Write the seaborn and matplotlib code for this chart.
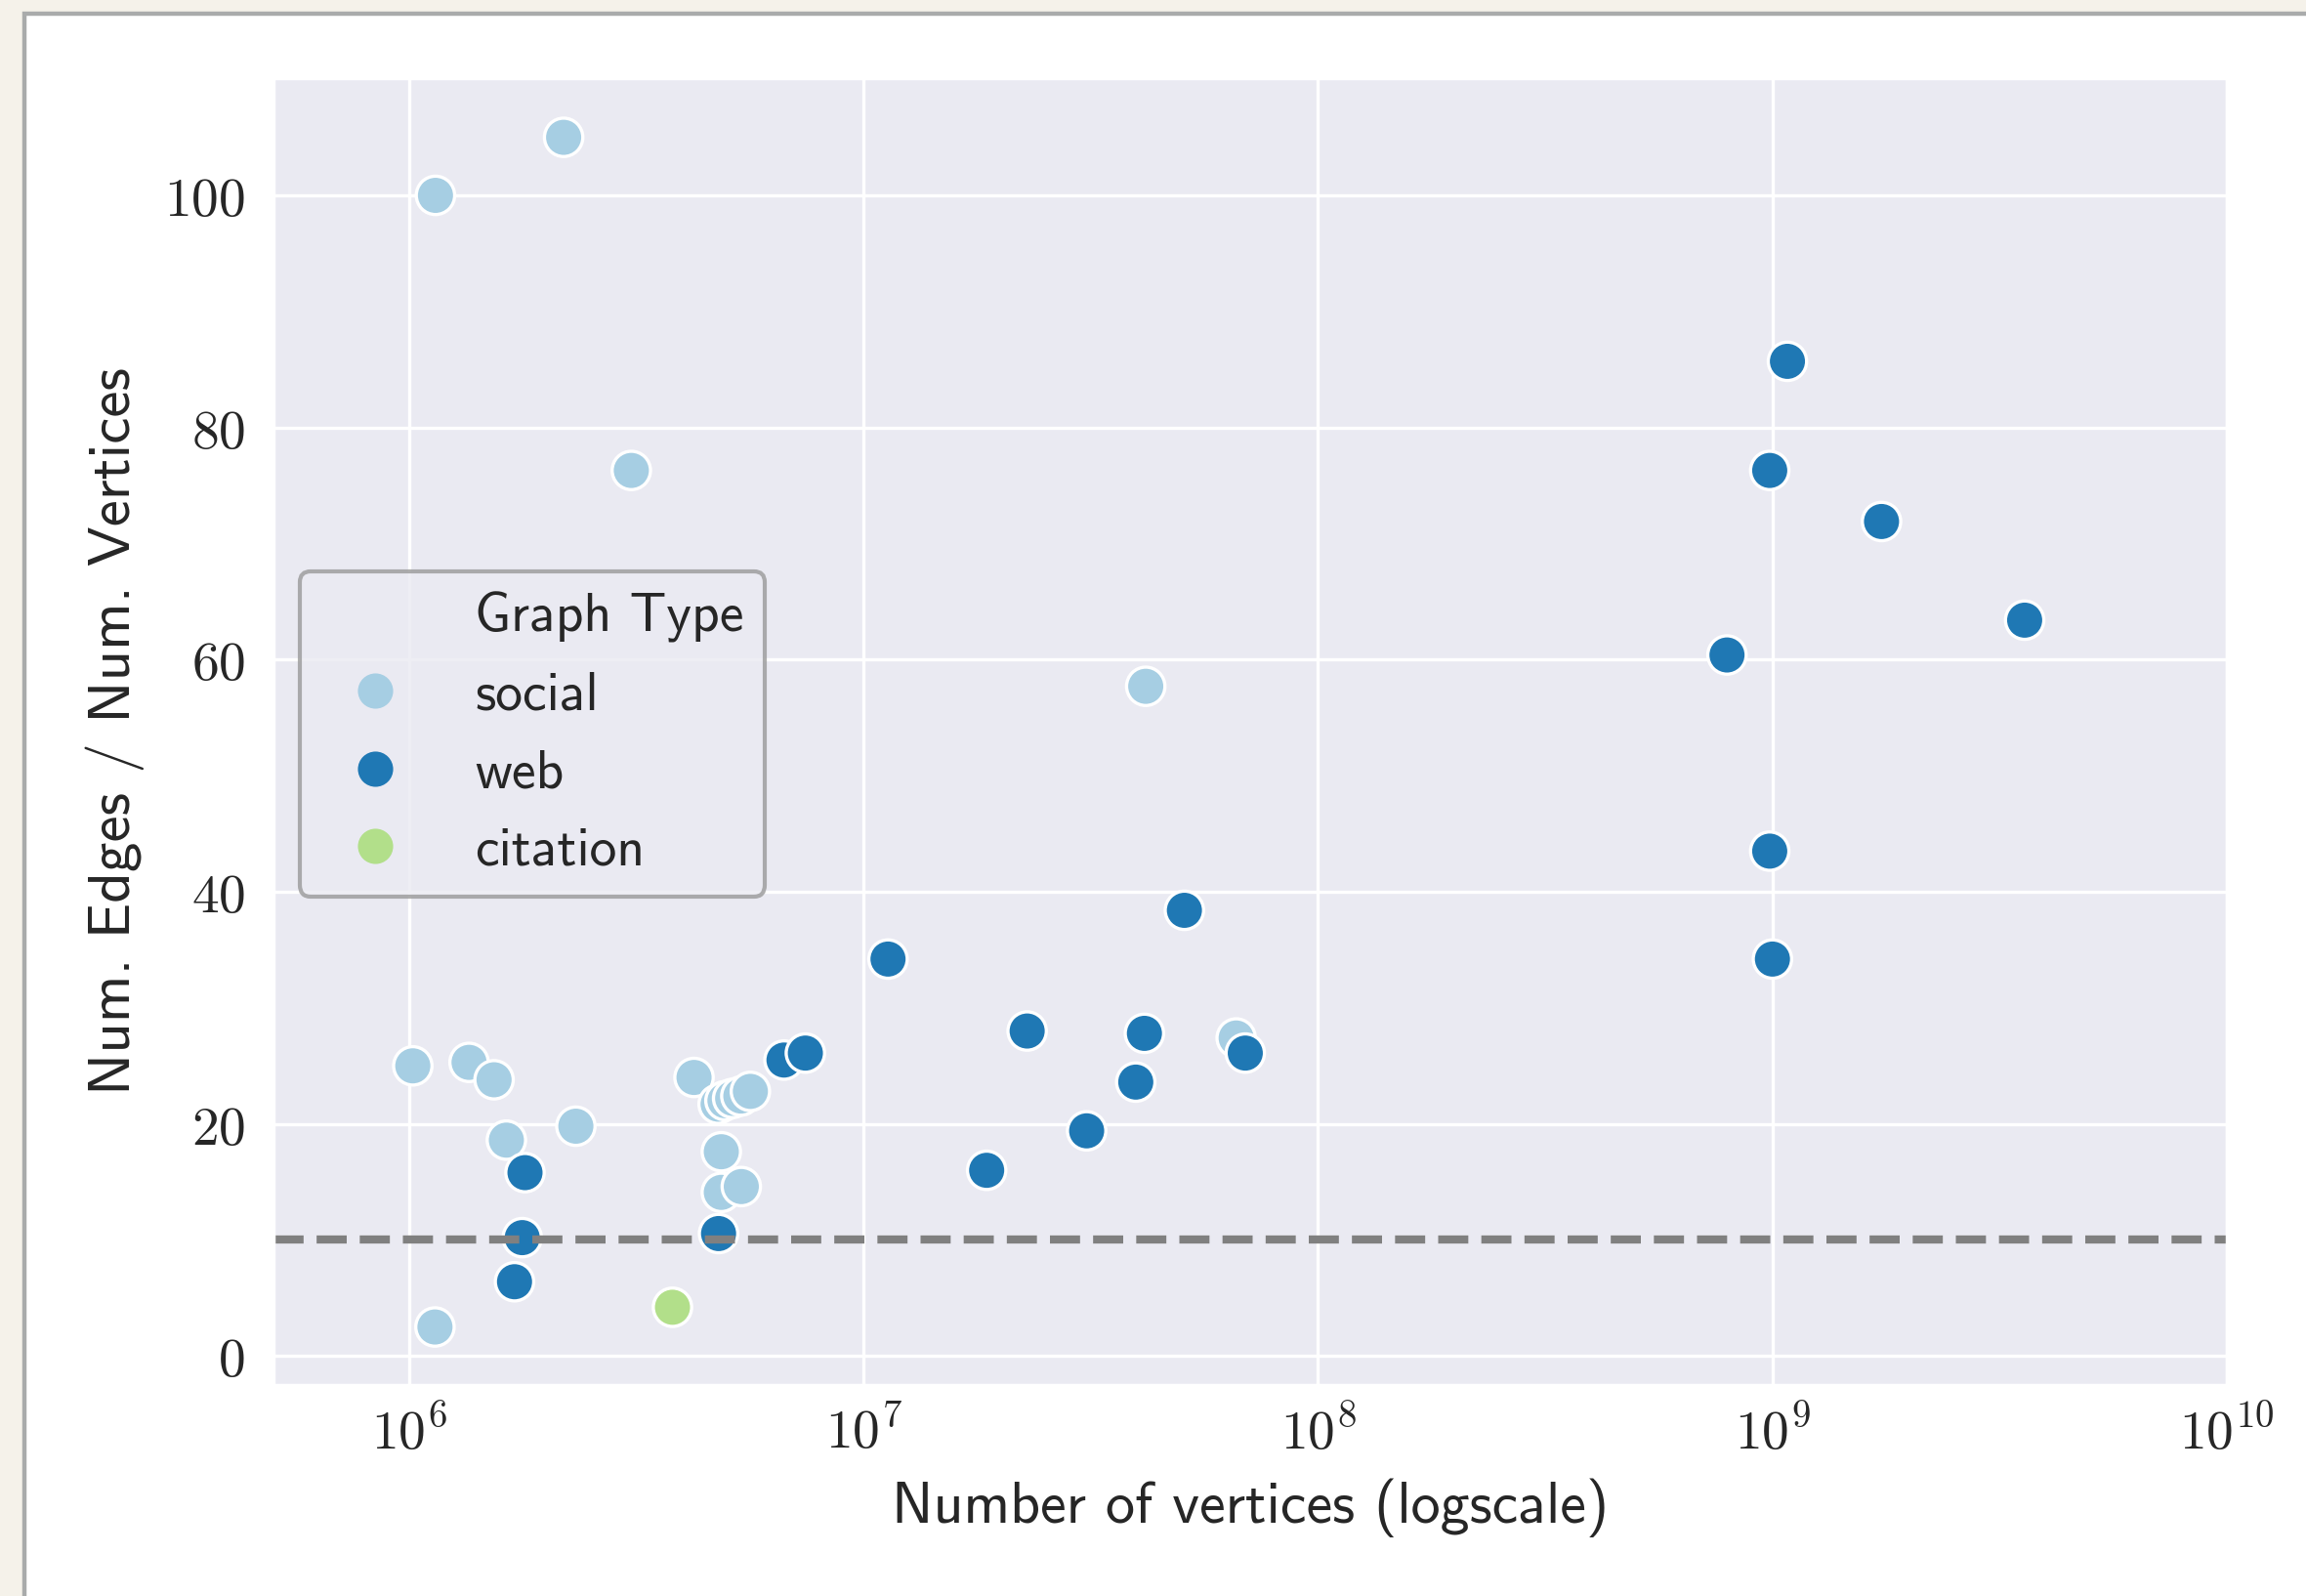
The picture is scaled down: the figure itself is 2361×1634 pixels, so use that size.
import math
import matplotlib
matplotlib.use("Agg")
import matplotlib.pyplot as plt
import seaborn as sns
import pandas as pd
from matplotlib.ticker import FixedLocator, FuncFormatter, NullLocator
from matplotlib.lines import Line2D
from matplotlib.patches import Rectangle

# ---- data: number of vertices and average degree (edges / vertices) ----
social_vertices = [1.143e6, 2.188e6, 3.083e6, 4.178e7, 1.019e6, 1.355e6, 1.538e6,
                   1.637e6, 2.328e6, 1.140e6, 4.236e6, 4.864e6, 4.864e6, 5.383e6,
                   4.786e6, 4.955e6, 5.152e6, 5.370e6, 5.636e6, 6.607e7]
social_ratio = [100.0, 105.0, 76.3, 57.7, 25.0, 25.3, 23.8,
                18.6, 19.8, 2.5, 24.0, 17.6, 14.1, 14.6,
                21.7, 22.0, 22.2, 22.4, 22.8, 27.4]

web_vertices = [1.079e9, 9.863e8, 1.738e9, 3.589e9, 7.943e8, 9.863e8, 1.0e9,
                5.082e7, 1.132e7, 2.291e7, 4.150e7, 3.972e7, 6.918e7, 3.097e7,
                1.866e7, 6.683e6, 7.447e6, 1.799e6, 1.774e6, 1.706e6, 4.797e6]
web_ratio = [85.7, 76.3, 71.9, 63.4, 60.4, 43.5, 34.2,
             38.4, 34.2, 28.0, 27.8, 23.6, 26.1, 19.4,
             16.0, 25.5, 26.1, 15.8, 10.2, 6.4, 10.55]

citation_vertices = [3.798e6]
citation_ratio = [4.2]

graph_types = ["social", "web", "citation"]
type_colors = ["#a6cee3", "#1f78b4", "#b2df8a"]

threshold = 10
x_ticks = [1e6, 1e7, 1e8, 1e9, 1e10]
y_ticks = [0, 20, 40, 60, 80, 100]

df = pd.DataFrame({
    "vertices": social_vertices + web_vertices + citation_vertices,
    "ratio": social_ratio + web_ratio + citation_ratio,
    "Graph Type": (["social"] * len(social_vertices) + ["web"] * len(web_vertices)
                   + ["citation"] * len(citation_vertices)),
})
palette = dict(zip(graph_types, type_colors))

sns.set_theme(style="darkgrid")
plt.rcParams["mathtext.fontset"] = "cm"
plt.rcParams["grid.linewidth"] = 1.2

fig, ax = plt.subplots(figsize=(11.805, 8.17), dpi=200)
fig.patch.set_facecolor("#f5f2ea")
fig.patches.append(Rectangle((25 / 2361, -0.05), 1.1, 1.05 - 14 / 1634,
                             transform=fig.transFigure, facecolor="white",
                             edgecolor="#a9abab", lw=1.6, zorder=-10))
fig.subplots_adjust(left=280 / 2361, right=2280 / 2361,
                    top=1 - 80 / 1634, bottom=1 - 1418 / 1634)

sns.scatterplot(data=df, x="vertices", y="ratio", hue="Graph Type",
                hue_order=graph_types, palette=palette, s=200,
                edgecolor="white", linewidth=1.2, legend=False, ax=ax)
ax.axhline(threshold, color="gray", ls="--", lw=3)

ax.set_xscale("log")
ax.set_xlim(5.03e5, 1e10)
ax.set_ylim(-2.5, 110.1)
ax.xaxis.set_major_locator(FixedLocator(x_ticks))
ax.xaxis.set_minor_locator(NullLocator())
ax.yaxis.set_major_locator(FixedLocator(y_ticks))
ax.xaxis.set_major_formatter(FuncFormatter(lambda v, p: r"$10^{%d}$" % round(math.log10(v))))
ax.yaxis.set_major_formatter(FuncFormatter(lambda v, p: r"$%d$" % v))
ax.tick_params(axis="x", labelsize=20, pad=8, length=0)
ax.tick_params(axis="y", labelsize=20, pad=10.5, length=0)

ax.set_xlabel("Number of vertices (logscale)", fontfamily="cmss10",
              fontsize=21.6, labelpad=6.5, color="#262626")
ax.set_ylabel("Num. Edges / Num. Vertices", fontfamily="cmss10",
              fontsize=22, labelpad=7, color="#262626")

blank = Line2D([], [], ls="", marker="")
handles = [blank] + [Line2D([], [], ls="", marker="o", markersize=13,
                            markeredgewidth=0, color=palette[t]) for t in graph_types]
labels = ["Graph Type"] + graph_types
leg = ax.legend(handles, labels, loc="lower left", bbox_to_anchor=(0.0135, 0.374),
                borderaxespad=0, prop={"family": "cmss10", "size": 20},
                borderpad=0.38, handletextpad=0.85, labelspacing=0.53,
                frameon=True, fancybox=True)
leg.get_frame().set_edgecolor("#999999")
leg.get_frame().set_linewidth(1.5)
leg.get_frame().set_facecolor("#eaeaf2")
leg.get_frame().set_alpha(0.8)
for t in leg.get_texts():
    t.set_color("#262626")

fig.savefig("out.png", dpi=200, facecolor=fig.get_facecolor())
